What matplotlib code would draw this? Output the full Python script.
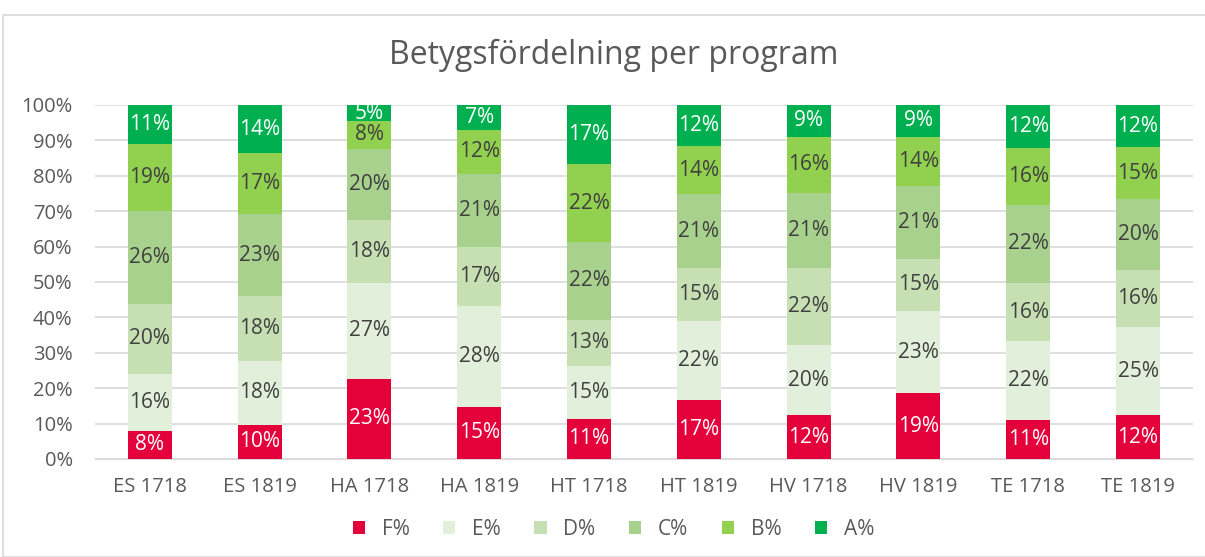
import numpy as np
import matplotlib
matplotlib.use("Agg")
import matplotlib.pyplot as plt
from matplotlib.patches import Rectangle

plt.rcParams['font.family'] = ['Open Sans', 'DejaVu Sans']

# data (share of each grade, per program)
programs = ['ES 1718', 'ES 1819', 'HA 1718', 'HA 1819', 'HT 1718',
            'HT 1819', 'HV 1718', 'HV 1819', 'TE 1718', 'TE 1819']
grades = ['F%', 'E%', 'D%', 'C%', 'B%', 'A%']
f_pct = [7.9, 9.6, 22.6, 14.8, 11.3, 16.7, 12.4, 18.6, 11.0, 12.4]
e_pct = [16.1, 18.1, 27.2, 28.3, 15.0, 22.3, 19.8, 23.2, 22.3, 24.9]
d_pct = [19.8, 18.3, 17.8, 16.8, 13.0, 15.0, 21.8, 14.7, 16.4, 16.1]
c_pct = [26.3, 23.1, 20.1, 20.7, 22.0, 20.8, 21.1, 20.6, 22.1, 20.0]
b_pct = [18.9, 17.3, 7.7, 12.3, 22.0, 13.6, 15.9, 13.9, 16.1, 14.7]
a_pct = [11.0, 13.6, 4.6, 7.1, 16.7, 11.6, 9.0, 9.0, 12.1, 11.9]

colors = ['#E4003A', '#E2EFDA', '#C6E0B4', '#A9D18E', '#92D050', '#00B050']
label_colors = ['white', '#404040', '#404040', '#404040', '#404040', 'white']

fig = plt.figure(figsize=(12.05, 5.57), dpi=100)
ax = fig.add_axes([0.0788, 0.176, 0.9112, 0.6355])

# outer chart frame
fig.patches.append(Rectangle((3 / 1205, 0), 1.2, 1 - 15 / 557, transform=fig.transFigure,
                             fill=False, edgecolor='#D9D9D9', lw=1.2))

x = np.arange(len(programs))
bottom = np.zeros(len(programs))
series = [f_pct, e_pct, d_pct, c_pct, b_pct, a_pct]
for vals, col, lcol, name in zip(series, colors, label_colors, grades):
    vals = np.array(vals)
    bars = ax.bar(x, vals, 0.4, bottom=bottom, color=col, label=name, zorder=3)
    ax.bar_label(bars, labels=[f'{v:.0f}%' for v in vals], label_type='center',
                 color=lcol, fontsize=15)
    bottom += vals

ax.set_xlim(-0.5, len(programs) - 0.5)
ax.set_ylim(0, 100)
ax.set_yticks(np.arange(0, 101, 10))
ax.set_yticklabels([f'{t}%' for t in range(0, 101, 10)])
ax.set_xticks(x)
ax.set_xticklabels(programs)
ax.tick_params(axis='both', length=0, labelsize=14.5, colors='#595959')
ax.tick_params(axis='y', pad=16)
ax.tick_params(axis='x', pad=13)
ax.grid(axis='y', color='#D9D9D9', lw=1.2, zorder=0)
for s in ['top', 'right', 'left']:
    ax.spines[s].set_visible(False)
ax.spines['bottom'].set_color('#D9D9D9')

fig.text(0.509, 0.9, 'Betygsfördelning per program', ha='center', va='center',
         fontsize=23, color='#595959')

fig.legend(loc='center', bbox_to_anchor=(0.509, 0.05), ncol=6, frameon=False,
           fontsize=15, labelcolor='#595959', handlelength=0.6, handleheight=0.6,
           columnspacing=1.6, handletextpad=0.8)

fig.savefig('out.png', dpi=100)
